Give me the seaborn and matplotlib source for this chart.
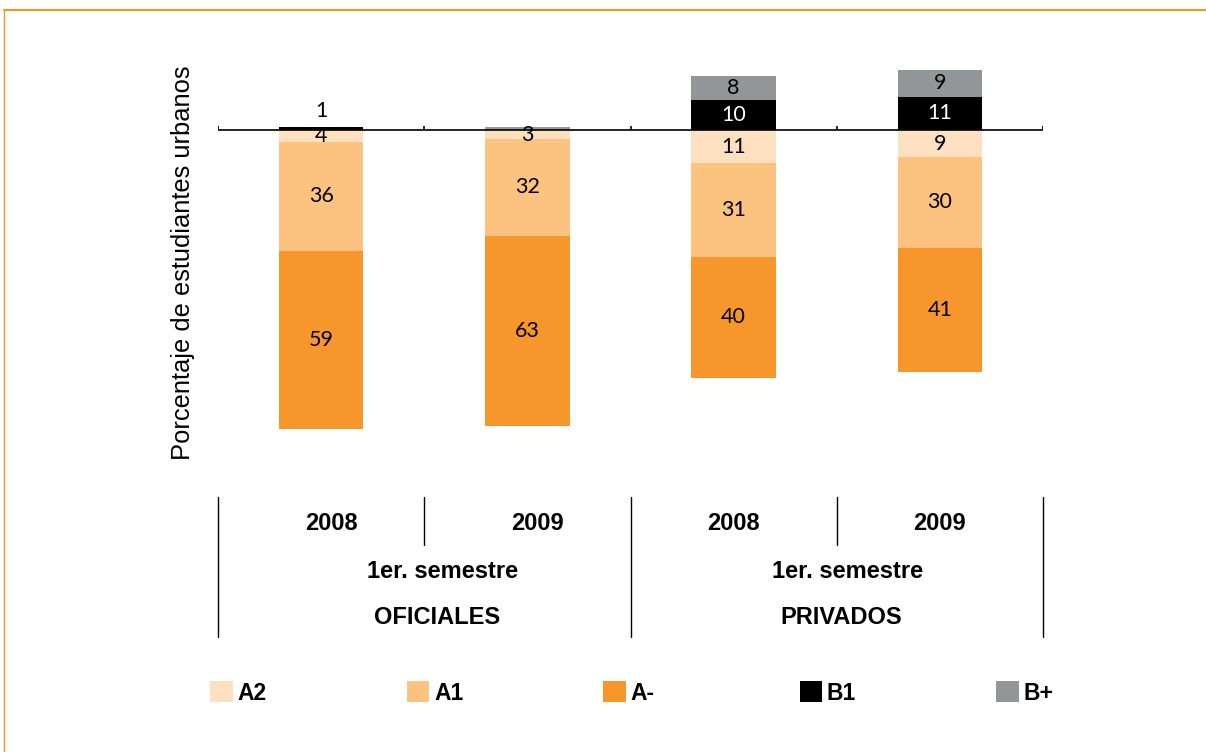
import numpy as np
import pandas as pd
import seaborn as sns
import matplotlib
matplotlib.use("Agg")
import matplotlib.pyplot as plt
from matplotlib.patches import Patch
from matplotlib.lines import Line2D
import matplotlib.transforms as mtransforms

# ---------------- data ----------------
categories = ["OFICIALES 2008", "OFICIALES 2009", "PRIVADOS 2008", "PRIVADOS 2009"]
years = ["2008", "2009", "2008", "2009"]
groups = ["OFICIALES", "PRIVADOS"]
period = "1er. semestre"
series_names = ["A2", "A1", "A-", "B1", "B+"]
a2 = np.array([4, 3, 11, 9])
a1 = np.array([36, 32, 31, 30])
am = np.array([59, 63, 40, 41])
b1 = np.array([1, 0, 10, 11])
bp = np.array([0, 1, 8, 9])
ylabel = "Porcentaje de estudiantes urbanos"

# ---------------- style ----------------
C_A2 = "#FDE0C0"
C_A1 = "#FBC280"
C_AM = "#F7962A"
C_B1 = "#000000"
C_BP = "#939598"
FRAME = "#F7941D"

sns.set_theme(style="white")
plt.rcParams["font.family"] = ["Liberation Sans", "DejaVu Sans"]
plt.rcParams["text.color"] = "black"

W, H = 1206, 752
fig = plt.figure(figsize=(W / 100, H / 100), dpi=100)
ax_left, ax_right = 218, 1043
ax_top, ax_bot = 60, 460
ax = fig.add_axes([ax_left / W, 1 - ax_bot / H, (ax_right - ax_left) / W, (ax_bot - ax_top) / H])

bw = 0.41
layers = [
    (-(a2 + a1 + am), C_AM),
    (-(a2 + a1), C_A1),
    (-a2, C_A2),
    (b1 + bp, C_BP),
    (b1, C_B1),
]
for vals, col in layers:
    df = pd.DataFrame({"cat": categories, "val": vals})
    sns.barplot(data=df, x="cat", y="val", color=col, saturation=1, width=bw,
                edgecolor="none", linewidth=0, ax=ax, order=categories)

ax.set_xlim(-0.5, 3.5)
zero_px = 130
ppu = 3.02
ax.set_ylim(-(ax_bot - zero_px) / ppu, (zero_px - ax_top) / ppu)
ax.set_xticks([])
ax.set_yticks([])
ax.set_xlabel("")
ax.set_ylabel("")
for s in ax.spines.values():
    s.set_visible(False)

# zero line and tick marks
ax.axhline(0, color="black", lw=1.2, zorder=5)
ax.vlines(np.arange(-0.5, 4, 1.0), 0, 1.4, color="black", lw=1.2, zorder=5)

# value labels
lab_font = dict(family=["Lato", "DejaVu Sans"], fontsize=15.5, ha="center", va="center")
x = np.arange(len(categories))
for i in x:
    ax.text(i, -a2[i] / 2, str(a2[i]), color="black", zorder=6, **lab_font)
    ax.text(i, -(a2[i] + a1[i] / 2), str(a1[i]), color="black", zorder=6, **lab_font)
    ax.text(i, -(a2[i] + a1[i] + am[i] / 2), str(am[i]), color="black", zorder=6, **lab_font)
    if b1[i] >= 3:
        ax.text(i, b1[i] / 2, str(b1[i]), color="white", zorder=6, **lab_font)
    elif b1[i] > 0:
        ax.text(i, b1[i] + 5.3, str(b1[i]), color="black", zorder=6, **lab_font)
    if bp[i] >= 3:
        ax.text(i, b1[i] + bp[i] / 2, str(bp[i]), color="black", zorder=6, **lab_font)

# y label
fig.text(183 / W, 1 - 263 / H, ylabel, rotation=90, ha="center", va="center",
         fontsize=18.4, color="black")

# category table below the axes
trans = mtransforms.blended_transform_factory(ax.transData, fig.transFigure)
fy = lambda py: 1 - py / H
for b in [-0.5, 1.5, 3.5]:
    fig.add_artist(Line2D([b, b], [fy(497), fy(637)], transform=trans, color="black", lw=1))
for b in [0.5, 2.5]:
    fig.add_artist(Line2D([b, b], [fy(497), fy(545)], transform=trans, color="black", lw=1))

bold = dict(fontsize=17, fontweight="bold", ha="center", va="center", color="black")
year_dx = [0.05, 0.05, 0.0, 0.0]
for i, yr in enumerate(years):
    fig.text(i + year_dx[i], fy(523), yr, transform=trans, **bold)
group_dx = [0.06, 0.02]
for g, name in enumerate(groups):
    cx = 2 * g + 0.5
    fig.text(cx + group_dx[g] + 0.03, fy(571), period, transform=trans, **bold)
    fig.text(cx + group_dx[g], fy(617), name, transform=trans, **bold)

# legend (five evenly spaced entries)
leg_cols = [C_A2, C_A1, C_AM, C_B1, C_BP]
for k, (name, col) in enumerate(zip(series_names, leg_cols)):
    leg = fig.legend(handles=[Patch(facecolor=col, edgecolor="none")], labels=[name],
                     loc="center left", bbox_to_anchor=((210 + 196.5 * k) / W, fy(693)),
                     frameon=False, handlelength=1.0, handleheight=1.0,
                     handletextpad=0.2, borderaxespad=0, borderpad=0, labelcolor="black",
                     prop=dict(family=["Liberation Sans", "DejaVu Sans"], weight="bold", size=16.5))

# orange frame
fig.add_artist(Line2D([4 / W, 1], [fy(10), fy(10)], transform=fig.transFigure, color=FRAME, lw=1.5))
fig.add_artist(Line2D([4 / W, 4 / W], [0, fy(10)], transform=fig.transFigure, color=FRAME, lw=1.0))

fig.savefig("out.png", dpi=100)
